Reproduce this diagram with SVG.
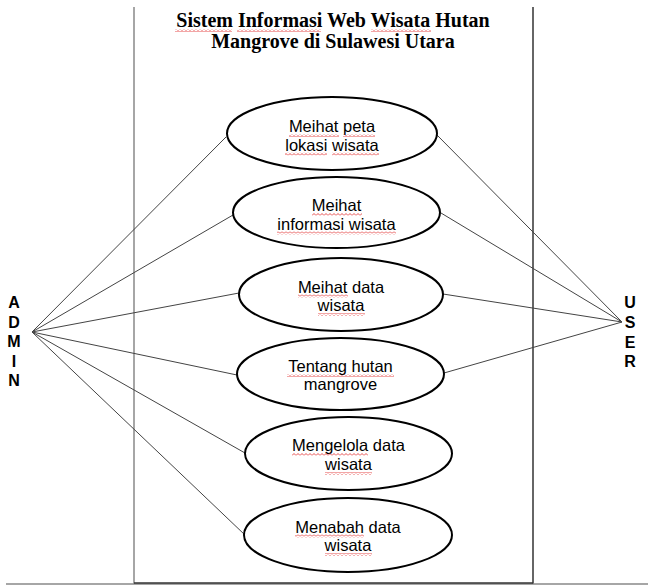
<svg xmlns="http://www.w3.org/2000/svg" width="648" height="585" viewBox="0 0 648 585">
<defs>
<pattern id="wave" patternUnits="userSpaceOnUse" x="0" y="0" width="4" height="3">
<path d="M0 2.5 L2 0.5 L4 2.5" fill="none" stroke="#e02020" stroke-width="0.8"/>
</pattern>
<style>
.title{font-family:"Liberation Serif","Times New Roman",serif;font-weight:bold;font-size:20px;fill:#000;text-anchor:middle}
.uc{fill:#fff;stroke:#000;stroke-width:2}
.lbl{font-family:"Liberation Sans",Arial,sans-serif;font-size:16.5px;fill:#000;text-anchor:middle}
.actor{font-family:"Liberation Sans",Arial,sans-serif;font-weight:bold;font-size:16px;fill:#000;text-anchor:middle}
.conn line{stroke:#444;stroke-width:1}
.sq{fill:url(#wave)}
</style>
</defs>
<rect width="648" height="585" fill="#fff"/>
<g id="boundary">
<line x1="134" y1="7" x2="134" y2="584" stroke="#888" stroke-width="1.5"/>
<line x1="533" y1="7" x2="533" y2="584" stroke="#333" stroke-width="1.5"/>
<line x1="6" y1="584" x2="648" y2="584" stroke="#888" stroke-width="1.5"/>
<line x1="134" y1="583" x2="533" y2="583" stroke="#333" stroke-width="1.5"/>
</g>
<g id="title">
<text class="title" x="333" y="27">Sistem Informasi Web Wisata Hutan</text>
<text class="title" x="333" y="47.5">Mangrove di Sulawesi Utara</text>
<rect class="sq" x="175" y="29" width="57" height="3"/>
<rect class="sq" x="237" y="29" width="84" height="3"/>
<rect class="sq" x="371" y="29" width="60" height="3"/>
</g>
<g id="connectors" class="conn">
<line x1="32" y1="332" x2="226" y2="137"/>
<line x1="32" y1="332" x2="233" y2="215"/>
<line x1="32" y1="332" x2="239" y2="293"/>
<line x1="32" y1="332" x2="237" y2="375"/>
<line x1="32" y1="332" x2="245" y2="453"/>
<line x1="32" y1="332" x2="245" y2="535"/>
<line x1="622" y1="322" x2="437" y2="135"/>
<line x1="622" y1="322" x2="441" y2="213"/>
<line x1="622" y1="322" x2="443" y2="294"/>
<line x1="622" y1="322" x2="444" y2="373"/>
</g>
<g id="admin">
<text class="actor" x="14" y="308">A</text>
<text class="actor" x="14" y="328">D</text>
<text class="actor" x="14" y="347">M</text>
<text class="actor" x="14" y="367">I</text>
<text class="actor" x="14" y="386">N</text>
</g>
<g id="user">
<text class="actor" x="630" y="308">U</text>
<text class="actor" x="630" y="328">S</text>
<text class="actor" x="630" y="348">E</text>
<text class="actor" x="630" y="367">R</text>
</g>
<g id="uc1">
<ellipse class="uc" cx="332" cy="133.5" rx="105" ry="36.5"/>
<text class="lbl" x="332" y="132">Meihat peta</text>
<text class="lbl" x="332" y="150.5">lokasi wisata</text>
<rect class="sq" x="289" y="134" width="50" height="3"/>
<rect class="sq" x="343" y="134" width="32" height="3"/>
<rect class="sq" x="285" y="152.5" width="42" height="3"/>
<rect class="sq" x="332" y="152.5" width="47" height="3"/>
</g>
<g id="uc2">
<ellipse class="uc" cx="336.5" cy="212.5" rx="103.5" ry="35.5"/>
<text class="lbl" x="336.5" y="211">Meihat</text>
<text class="lbl" x="336.5" y="229.5">informasi wisata</text>
<rect class="sq" x="312" y="213" width="50" height="3"/>
<rect class="sq" x="277" y="231.5" width="119" height="3"/>
</g>
<g id="uc3">
<ellipse class="uc" cx="341" cy="294.5" rx="102" ry="36.5"/>
<text class="lbl" x="341" y="292.5">Meihat data</text>
<text class="lbl" x="341" y="311">wisata</text>
<rect class="sq" x="298" y="294.5" width="50" height="3"/>
<rect class="sq" x="318" y="313" width="47" height="3"/>
</g>
<g id="uc4">
<ellipse class="uc" cx="340.5" cy="374" rx="103.5" ry="36"/>
<text class="lbl" x="340.5" y="372">Tentang hutan</text>
<text class="lbl" x="340.5" y="390">mangrove</text>
<rect class="sq" x="287" y="374" width="107" height="3"/>
</g>
<g id="uc5">
<ellipse class="uc" cx="348.5" cy="453.5" rx="103.5" ry="36.5"/>
<text class="lbl" x="348.5" y="451">Mengelola data</text>
<text class="lbl" x="348.5" y="470">wisata</text>
<rect class="sq" x="292" y="453" width="76" height="3"/>
<rect class="sq" x="325" y="472" width="47" height="3"/>
</g>
<g id="uc6">
<ellipse class="uc" cx="348" cy="535" rx="104" ry="37"/>
<text class="lbl" x="348" y="532.5">Menabah data</text>
<text class="lbl" x="348" y="551">wisata</text>
<rect class="sq" x="295" y="534.5" width="69" height="3"/>
<rect class="sq" x="325" y="553" width="47" height="3"/>
</g>
</svg>
